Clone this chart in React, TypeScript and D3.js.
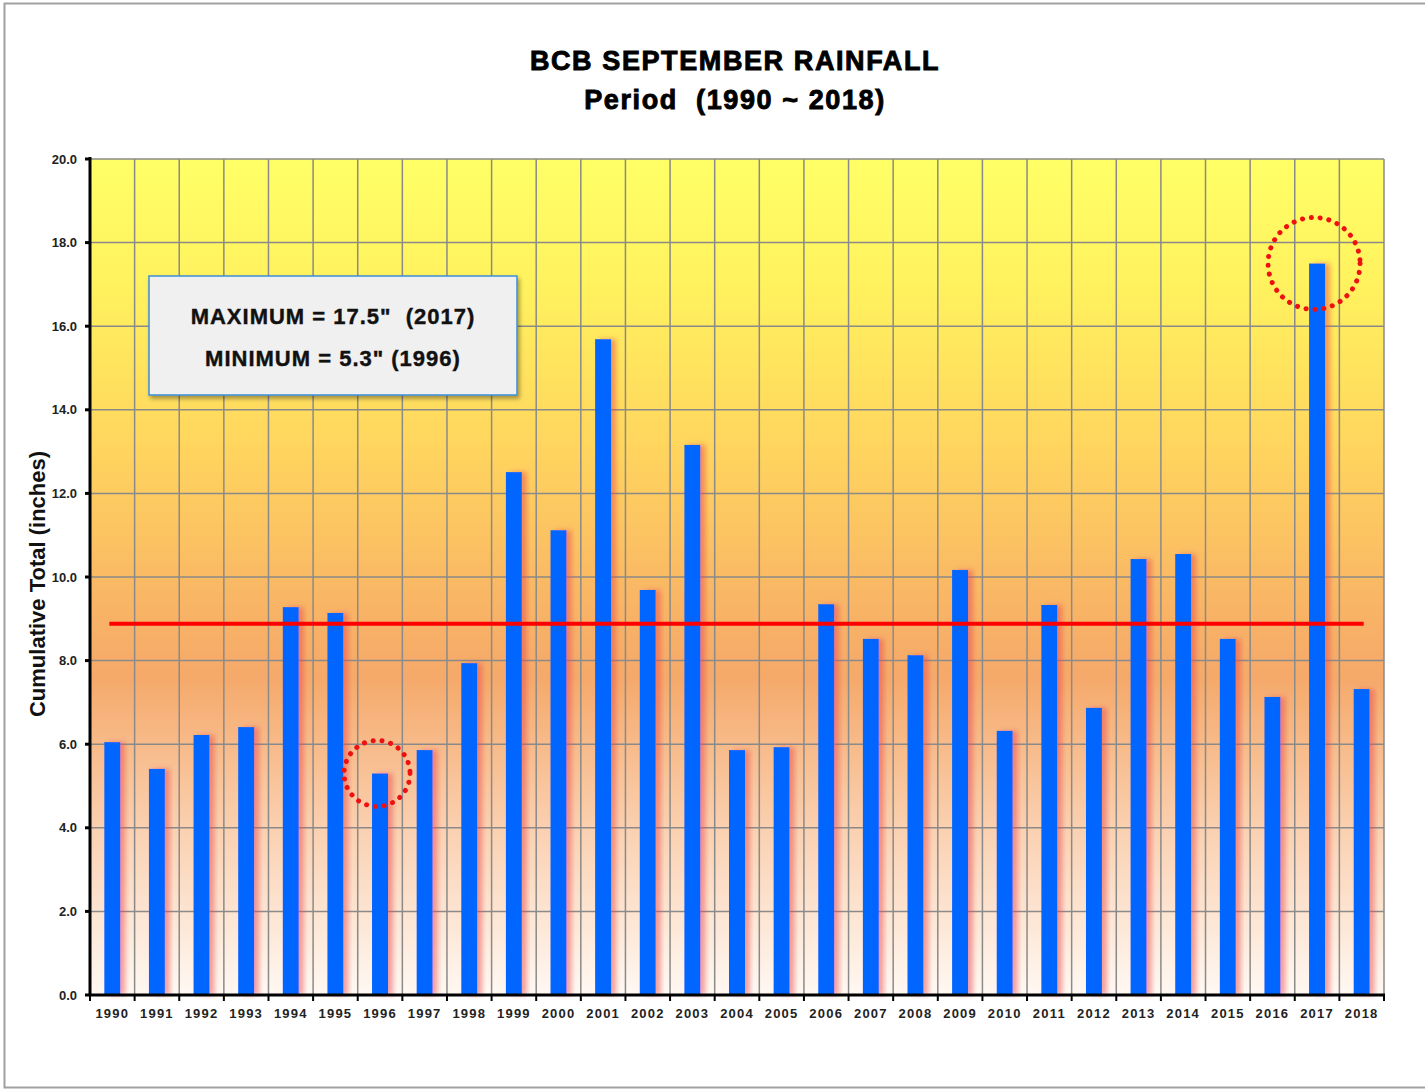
import React from "react";
import * as d3 from "d3";

const years = ["1990","1991","1992","1993","1994","1995","1996","1997","1998","1999","2000","2001","2002","2003","2004","2005","2006","2007","2008","2009","2010","2011","2012","2013","2014","2015","2016","2017","2018"];
const rainfall = [6.05,5.41,6.22,6.41,9.28,9.14,5.3,5.86,7.94,12.51,11.12,15.69,9.69,13.16,5.86,5.93,9.35,8.52,8.13,10.17,6.32,9.33,6.87,10.43,10.55,8.52,7.13,17.5,7.32];
const averageValue = 8.88;
const yTicks = [0,2,4,6,8,10,12,14,16,18,20];
const titleLines = ["BCB SEPTEMBER RAINFALL", "Period  (1990 ~ 2018)"];
const noteLines = ["MAXIMUM = 17.5\"  (2017)", "MINIMUM = 5.3\" (1996)"];
const circled = [{ year: "2017", value: 17.5, r: 46, dy: 0 }, { year: "1996", value: 5.3, r: 33, dy: 0 }];

const W = 1425, H = 1089;
const left = 90, right = 1384, top = 159, bottom = 995;

export default function App() {
  const x = d3.scaleBand<string>().domain(years).range([left, right]).padding(0);
  const y = d3.scaleLinear().domain([0, 20]).range([bottom, top]);
  const bw = x.bandwidth();
  const barW = 16;
  const font = "'Liberation Sans', Arial, sans-serif";
  const boundaries = d3.range(years.length + 1).map((i) => left + i * bw);

  return (
    <svg width={W} height={H} style={{ position: "absolute", left: 0, top: 0, display: "block", whiteSpace: "pre" }} fontFamily={font}>
      <defs>
        <linearGradient id="bg" x1="0" y1="0" x2="0" y2="1">
          <stop offset="0%" stopColor="#FFFF66" />
          <stop offset="15%" stopColor="#FFF25E" />
          <stop offset="35%" stopColor="#FFD45E" />
          <stop offset="55%" stopColor="#F8B266" />
          <stop offset="62%" stopColor="#F5A96A" />
          <stop offset="80%" stopColor="#FAD0B0" />
          <stop offset="100%" stopColor="#FFF8F2" />
        </linearGradient>
        <filter id="barShadow" x="-50%" y="-5%" width="200%" height="110%">
          <feDropShadow dx="5" dy="0" stdDeviation="2.5" floodColor="#E84A50" floodOpacity="0.5" />
        </filter>
        <filter id="boxShadow" x="-10%" y="-10%" width="120%" height="130%">
          <feDropShadow dx="2" dy="3" stdDeviation="2" floodColor="#000" floodOpacity="0.35" />
        </filter>
      </defs>
      <rect x={0} y={0} width={W} height={H} fill="#fff" />
      <rect x={4.5} y={3.5} width={W + 10} height={1084} fill="#fff" stroke="#a0a0a0" strokeWidth={2} />

      {titleLines.map((t, i) => (
        <text key={t} x={735} y={70 + i * 39} textAnchor="middle" fontSize={27} fontWeight="bold" letterSpacing={1.6} stroke="#000" strokeWidth={0.9} fill="#000" style={{ whiteSpace: "pre" }}>{t}</text>
      ))}

      <rect x={left} y={top} width={right - left} height={bottom - top} fill="url(#bg)" />

      {yTicks.map((t) => (
        <line key={"h" + t} x1={left} x2={right} y1={y(t)} y2={y(t)} stroke="#8a8a8a" strokeWidth={1.5} />
      ))}
      {boundaries.map((bx, i) => (
        <line key={"v" + i} x1={bx} x2={bx} y1={top} y2={bottom} stroke="#8a8a8a" strokeWidth={1.5} />
      ))}

      {years.map((yr, i) => {
        const cx = (x(yr) as number) + bw / 2;
        return (
          <rect key={yr} x={cx - barW / 2} y={y(rainfall[i])} width={barW} height={bottom - y(rainfall[i])} fill="#0066FF" filter="url(#barShadow)" />
        );
      })}

      <line x1={(x(years[0]) as number) + bw / 2 - 3} x2={(x(years[years.length - 1]) as number) + bw / 2 + 2} y1={y(averageValue)} y2={y(averageValue)} stroke="#FF0000" strokeWidth={4} />

      {circled.map((c) => (
        <circle key={c.year} cx={(x(c.year) as number) + bw / 2 - 3} cy={y(c.value) + c.dy} r={c.r} fill="none" stroke="#EE1111" strokeWidth={5} strokeDasharray="0.1 8.8" strokeLinecap="round" />
      ))}

      <g filter="url(#boxShadow)">
        <rect x={149} y={276} width={368} height={119} fill="#F0F0F0" stroke="#3A8FD8" strokeWidth={1.5} />
      </g>
      {noteLines.map((t, i) => (
        <text key={t} x={333} y={324 + i * 42} textAnchor="middle" fontSize={22} fontWeight="bold" letterSpacing={1.0} stroke="#111" strokeWidth={0.4} fill="#111" style={{ whiteSpace: "pre" }}>{t}</text>
      ))}

      <line x1={left} x2={left} y1={top - 2} y2={bottom + 1} stroke="#000" strokeWidth={3} />
      <line x1={left - 1} x2={right + 1} y1={bottom} y2={bottom} stroke="#000" strokeWidth={3} />
      {yTicks.map((t) => (
        <g key={"yt" + t}>
          <line x1={left - 5} x2={left} y1={y(t)} y2={y(t)} stroke="#000" strokeWidth={3} />
          <text x={77} y={y(t) + 4.5} textAnchor="end" fontSize={13} fontWeight="bold" fill="#222">{t.toFixed(1)}</text>
        </g>
      ))}
      {boundaries.map((bx, i) => (
        <line key={"xt" + i} x1={bx} x2={bx} y1={bottom} y2={bottom + 6} stroke="#000" strokeWidth={2} />
      ))}
      {years.map((yr) => (
        <text key={"xl" + yr} x={(x(yr) as number) + bw / 2} y={1018} textAnchor="middle" fontSize={13} fontWeight="bold" letterSpacing={1.2} fill="#222">{yr}</text>
      ))}

      <text transform={`translate(45,584) rotate(-90)`} textAnchor="middle" fontSize={22} fontWeight="bold" fill="#111">Cumulative Total (inches)</text>
    </svg>
  );
}
